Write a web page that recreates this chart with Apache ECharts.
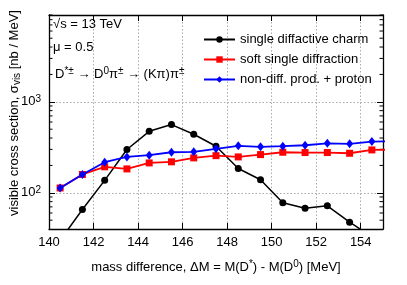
<!DOCTYPE html>
<html><head><meta charset="utf-8">
<script src="https://cdn.jsdelivr.net/npm/echarts@6/dist/echarts.min.js"></script>
<style>html,body{margin:0;padding:0;background:#fff}#c{width:407px;height:285px}</style>
</head><body><div id="c"></div>
<script>
const massBins = [140.5, 141.5, 142.5, 143.5, 144.5, 145.5, 146.5, 147.5, 148.5, 149.5, 150.5, 151.5, 152.5, 153.5, 154.5, 155.5];
const singleDiffCharm = [30, 65.6, 137, 299, 474, 562, 440, 325, 185, 139, 77.6, 67.8, 72, 47.5, 33, null];
const softSingleDiff = [113, 159, 193, 183, 213, 219, 242, 256, 248, 263, 279, 277, 277, 272, 296, 298];
const nonDiffProton = [113, 159, 217, 248, 259, 279, 282, 304, 328, 320, 325, 333, 350, 345, 366, 368];
const seriesNames = ['single diffactive charm', 'soft single diffraction', 'non-diff. prod. + proton'];
const yMajorLabels = {100: '{b|10}{s|2}', 1000: '{b|10}{s|3}'};
const yMinorTicks = [50, 60, 70, 80, 90, 200, 300, 400, 500, 600, 700, 800, 900, 2000, 3000, 4000, 5000, 6000, 7000, 8000, 9000];
const xMin = 140, xMax = 155, xStep = 2, yMin = 40, yMax = 9000;

const FONT = "'Liberation Sans', Arial, Helvetica, sans-serif";
const chart = echarts.init(document.getElementById('c'), null, {renderer: 'canvas'});
const pair = (ys) => massBins.map((x, i) => [x, ys[i]]);
const richBase = {
  n: {fontSize: 13, lineHeight: 16, fontFamily: FONT, color: '#000'},
  s: {fontSize: 10, lineHeight: 11, verticalAlign: 'top', fontFamily: FONT, color: '#000'},
  sub: {fontSize: 10, lineHeight: 10, verticalAlign: 'bottom', fontFamily: FONT, color: '#000'}
};
const axisCommon = {
  axisLine: {show: true, onZero: false, lineStyle: {color: '#000', width: 1.3}},
  axisTick: {show: true, inside: true, length: 6, lineStyle: {color: '#000', width: 1}},
};
const option = {
  animation: false,
  grid: {left: 49, right: 24, top: 15, bottom: 56, show: false},
  xAxis: [{
    type: 'value', min: xMin, max: xMax, interval: xStep, position: 'bottom',
    ...axisCommon,
    axisLabel: {fontSize: 13, fontFamily: FONT, color: '#000', margin: 7,
      formatter: v => (v === xMax ? '' : String(v))},
    splitLine: {show: true, showMinLine: false, showMaxLine: false, lineStyle: {color: '#aaa', type: [1.5, 2], width: 1}},
    name: '{n|mass difference, ΔM = M(D}{s|*}{n|) - M(D}{s|0}{n|) [MeV]}',
    nameLocation: 'middle', nameGap: 30,
    nameTextStyle: {rich: richBase}
  }, {
    type: 'value', min: xMin, max: xMax, interval: xStep, position: 'top',
    ...axisCommon, axisLabel: {show: false}, splitLine: {show: false}
  }],
  yAxis: [{
    type: 'log', logBase: 10, min: yMin, max: yMax, position: 'left',
    ...axisCommon,
    axisLabel: {margin: 8, formatter: v => yMajorLabels[Math.round(v)] || '',
      rich: {b: {fontSize: 13, lineHeight: 16, fontFamily: FONT, color: '#000'},
             s: {fontSize: 10, lineHeight: 11, verticalAlign: 'top', fontFamily: FONT, color: '#000'}}},
    splitLine: {show: true, showMinLine: false, showMaxLine: false, lineStyle: {color: '#aaa', type: [1.5, 2], width: 1}}
  }, {
    type: 'log', logBase: 10, min: yMin, max: yMax, position: 'right',
    ...axisCommon, axisLabel: {show: false}, splitLine: {show: false}
  }],
  legend: {
    orient: 'vertical', left: 203, top: 33, padding: 0, itemWidth: 31, itemHeight: 8, itemGap: 7,
    data: seriesNames,
    textStyle: {fontSize: 13, fontFamily: FONT, color: '#000'}
  },
  graphic: [
    {type: 'text', left: 53, top: 18, style: {text: '√s = 13 TeV', font: '13px ' + FONT, fill: '#000'}},
    {type: 'text', left: 53, top: 41, style: {text: 'μ = 0.5', font: '13px ' + FONT, fill: '#000'}},
    {type: 'text', left: 55, top: 66, style: {
      text: '{n|D}{s|*±}{n| → D}{s|0}{n|π}{s|±}{n| → (Kπ)π}{s|±}',
      rich: richBase}},
    {type: 'text', x: 14, y: 113, rotation: Math.PI / 2, style: {
      text: '{n|visible cross section, σ}{sub|vis}{n| [nb / MeV]}',
      rich: richBase, align: 'center', verticalAlign: 'middle'}}
  ],
  series: [{
    name: seriesNames[0], type: 'line', data: pair(singleDiffCharm),
    symbol: 'circle', symbolSize: 7, showAllSymbol: true,
    lineStyle: {color: '#000', width: 1.5}, itemStyle: {color: '#000'}, z: 3
  }, {
    name: seriesNames[1], type: 'line', data: pair(softSingleDiff),
    symbol: 'rect', symbolSize: 7, showAllSymbol: true,
    lineStyle: {color: '#ff0000', width: 1.8}, itemStyle: {color: '#ff0000'}, z: 4
  }, {
    name: seriesNames[2], type: 'line', data: pair(nonDiffProton),
    symbol: 'diamond', symbolSize: [7, 9], showAllSymbol: true,
    lineStyle: {color: '#0000ff', width: 1.8}, itemStyle: {color: '#0000ff'}, z: 5
  }, {
    type: 'custom', silent: true, clip: false,
    data: yMinorTicks.map(v => [xMin, v]),
    renderItem: (params, api) => {
      const v = api.value(1);
      const pl = api.coord([xMin, v]);
      const pr = api.coord([xMax, v]);
      return {type: 'group', children: [
        {type: 'line', shape: {x1: pl[0], y1: pl[1], x2: pl[0] + 3.5, y2: pl[1]}, style: {stroke: '#000', lineWidth: 1}},
        {type: 'line', shape: {x1: pr[0], y1: pr[1], x2: pr[0] - 3.5, y2: pr[1]}, style: {stroke: '#000', lineWidth: 1}}
      ]};
    }
  }]
};
chart.setOption(option);
</script></body></html>
